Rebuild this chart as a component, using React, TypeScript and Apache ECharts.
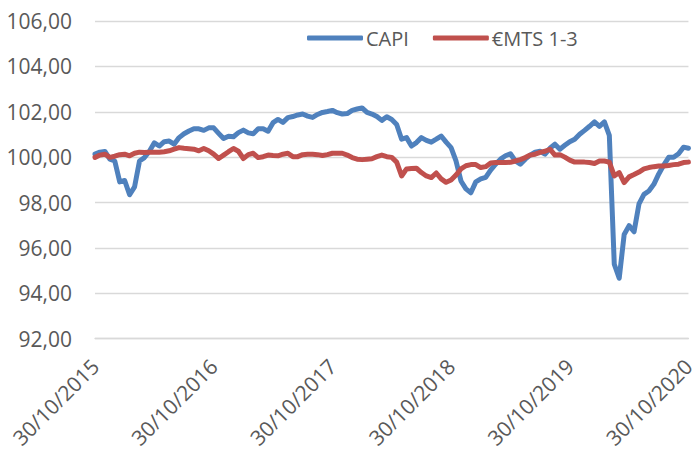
import React, { useEffect, useRef } from "react";
import * as echarts from "echarts";

const dates: string[] = [
  "30/10/2015", "15/11/2015", "30/11/2015", "15/12/2015", "30/12/2015",
  "15/01/2016", "30/01/2016", "15/02/2016", "29/02/2016", "15/03/2016", "30/03/2016",
  "15/04/2016", "30/04/2016", "15/05/2016", "30/05/2016", "15/06/2016", "30/06/2016",
  "15/07/2016", "30/07/2016", "15/08/2016", "30/08/2016", "15/09/2016", "30/09/2016",
  "15/10/2016", "30/10/2016", "15/11/2016", "30/11/2016", "15/12/2016", "30/12/2016",
  "15/01/2017", "30/01/2017", "15/02/2017", "28/02/2017", "15/03/2017", "30/03/2017",
  "15/04/2017", "30/04/2017", "15/05/2017", "30/05/2017", "15/06/2017", "30/06/2017",
  "15/07/2017", "30/07/2017", "15/08/2017", "30/08/2017", "15/09/2017", "30/09/2017",
  "15/10/2017", "30/10/2017", "15/11/2017", "30/11/2017", "15/12/2017", "30/12/2017",
  "15/01/2018", "30/01/2018", "15/02/2018", "28/02/2018", "15/03/2018", "30/03/2018",
  "15/04/2018", "30/04/2018", "15/05/2018", "30/05/2018", "15/06/2018", "30/06/2018",
  "15/07/2018", "30/07/2018", "15/08/2018", "30/08/2018", "15/09/2018", "30/09/2018",
  "15/10/2018", "30/10/2018", "15/11/2018", "30/11/2018", "15/12/2018", "30/12/2018",
  "15/01/2019", "30/01/2019", "15/02/2019", "28/02/2019", "15/03/2019", "30/03/2019",
  "15/04/2019", "30/04/2019", "15/05/2019", "30/05/2019", "15/06/2019", "30/06/2019",
  "15/07/2019", "30/07/2019", "15/08/2019", "30/08/2019", "15/09/2019", "30/09/2019",
  "15/10/2019", "30/10/2019", "15/11/2019", "30/11/2019", "15/12/2019", "30/12/2019",
  "15/01/2020", "30/01/2020", "15/02/2020", "29/02/2020", "15/03/2020", "30/03/2020",
  "15/04/2020", "30/04/2020", "15/05/2020", "30/05/2020", "15/06/2020", "30/06/2020",
  "15/07/2020", "30/07/2020", "15/08/2020", "30/08/2020", "15/09/2020", "30/09/2020",
  "15/10/2020", "30/10/2020",
];

const capi: number[] = [
  100.13, 100.22, 100.25, 99.91, 99.83, 98.91, 98.97, 98.34, 98.69, 99.83,
  99.98, 100.26, 100.63, 100.49, 100.68, 100.71, 100.57, 100.86, 101.03, 101.15,
  101.25, 101.25, 101.18, 101.29, 101.29, 101.05, 100.82, 100.92, 100.9, 101.08,
  101.19, 101.07, 101.03, 101.25, 101.25, 101.14, 101.52, 101.66, 101.53, 101.74,
  101.79, 101.86, 101.9, 101.81, 101.75, 101.88, 101.97, 102.01, 102.06, 101.96,
  101.9, 101.92, 102.06, 102.12, 102.17, 101.97, 101.9, 101.79, 101.62, 101.78,
  101.66, 101.44, 100.79, 100.86, 100.49, 100.64, 100.86, 100.74, 100.66, 100.79,
  100.93, 100.66, 100.42, 99.83, 98.95, 98.6, 98.43, 98.91, 99.04, 99.11,
  99.43, 99.69, 99.91, 100.06, 100.15, 99.83, 99.69, 99.91, 100.09, 100.22,
  100.26, 100.13, 100.39, 100.57, 100.35, 100.52, 100.68, 100.79, 101.01, 101.18,
  101.36, 101.55, 101.36, 101.55, 100.96, 95.28, 94.66, 96.59, 96.98, 96.71,
  97.94, 98.36, 98.51, 98.8, 99.26, 99.65, 99.99, 99.99, 100.15, 100.44,
  100.39,
];

const mts13: number[] = [
  99.99, 100.09, 100.13, 99.99, 100.04, 100.11, 100.13, 100.06, 100.17, 100.22,
  100.2, 100.21, 100.21, 100.22, 100.24, 100.28, 100.35, 100.42, 100.39, 100.37,
  100.35, 100.28, 100.38, 100.28, 100.13, 99.94, 100.09, 100.24, 100.38, 100.26,
  99.94, 100.11, 100.17, 99.98, 100.02, 100.09, 100.07, 100.06, 100.13, 100.17,
  100.02, 100.02, 100.11, 100.13, 100.13, 100.11, 100.07, 100.11, 100.17, 100.17,
  100.17, 100.09, 99.98, 99.91, 99.89, 99.91, 99.93, 100.02, 100.09, 100.02,
  99.99, 99.78, 99.17, 99.48, 99.5, 99.51, 99.32, 99.17, 99.1, 99.3,
  99.04, 98.89, 98.99, 99.21, 99.48, 99.62, 99.67, 99.67, 99.54, 99.58,
  99.74, 99.76, 99.76, 99.76, 99.77, 99.83, 99.89, 99.98, 100.09, 100.13,
  100.21, 100.26, 100.35, 100.09, 100.11, 100.0, 99.87, 99.78, 99.78, 99.78,
  99.76, 99.72, 99.83, 99.83, 99.78, 99.17, 99.32, 98.88, 99.13, 99.23,
  99.34, 99.48, 99.54, 99.58, 99.61, 99.61, 99.63, 99.67, 99.69, 99.76,
  99.78,
];

const seriesNames = ["CAPI", "€MTS 1-3"];
const yMin = 92;
const yMax = 106;
const yStep = 2;

const FONT = "'Open Sans', 'Noto Sans', sans-serif";
const TEXT = "#595959";

export default function App() {
  const ref = useRef<HTMLDivElement>(null);

  useEffect(() => {
    if (!ref.current) return;
    const chart = echarts.init(ref.current, undefined, { renderer: "svg" });
    chart.setOption({
      animation: false,
      backgroundColor: "#ffffff",
      textStyle: { fontFamily: FONT, color: TEXT },
      grid: { left: 95, right: 3, top: 21, bottom: 110, containLabel: false },
      legend: {
        data: seriesNames,
        left: 302,
        top: 23,
        itemWidth: 56,
        itemHeight: 5,
        itemGap: 24,
        icon: "roundRect",
        textStyle: { fontFamily: FONT, fontSize: 20, color: TEXT, padding: [0, 0, 0, -2] },
      },
      xAxis: {
        type: "category",
        data: dates,
        boundaryGap: false,
        axisLine: { show: true, lineStyle: { color: "#d9d9d9", width: 1.3 } },
        axisTick: { show: false },
        axisLabel: {
          interval: 23,
          rotate: 45,
          margin: 24,
          fontFamily: FONT,
          fontSize: 21,
          color: TEXT,
          showMinLabel: true,
          showMaxLabel: true,
          hideOverlap: false,
        },
        splitLine: { show: false },
      },
      yAxis: {
        type: "value",
        min: yMin,
        max: yMax,
        interval: yStep,
        axisLine: { show: false },
        axisTick: { show: false },
        axisLabel: {
          margin: 23,
          fontFamily: FONT,
          fontSize: 21,
          color: TEXT,
          formatter: (v: number) => v.toFixed(2).replace(".", ","),
        },
        splitLine: { lineStyle: { color: "#d9d9d9", width: 1.3 } },
      },
      series: [
        {
          name: seriesNames[0],
          type: "line",
          data: capi,
          symbol: "none",
          color: "#4f81bd",
          lineStyle: { width: 5, color: "#4f81bd", cap: "round", join: "round" },
        },
        {
          name: seriesNames[1],
          type: "line",
          data: mts13,
          symbol: "none",
          color: "#c0504d",
          lineStyle: { width: 5, color: "#c0504d", cap: "round", join: "round" },
        },
      ],
    });
    return () => chart.dispose();
  }, []);

  return (
    <div
      ref={ref}
      style={{ position: "fixed", left: 0, top: 0, width: 698, height: 451 }}
    />
  );
}
